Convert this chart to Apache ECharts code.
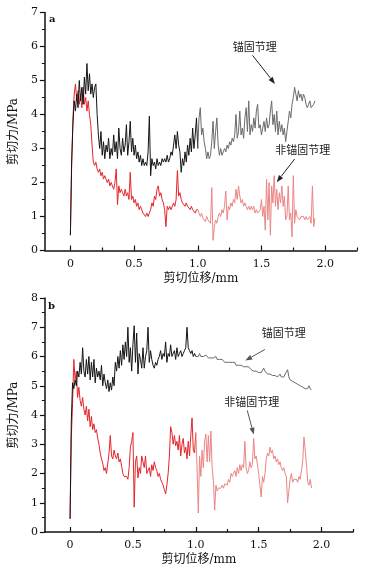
<!DOCTYPE html>
<html>
<head>
<meta charset="utf-8">
<script src="https://cdn.jsdelivr.net/npm/echarts@6/dist/echarts.min.js"></script>
<style>
html,body{margin:0;padding:0;background:#fff;}
#chart{width:379px;height:572px;}
</style>
</head>
<body>
<div id="chart"></div>
<script>
// Shear displacement (mm) sample positions, shared by both panels
const displacementMm = [
0.00,0.01,0.02,0.03,0.04,0.05,0.06,0.07,0.08,0.09,
0.10,0.11,0.12,0.13,0.14,0.15,0.16,0.17,0.18,0.19,
0.20,0.21,0.22,0.23,0.24,0.25,0.26,0.27,0.28,0.29,
0.30,0.31,0.32,0.33,0.34,0.35,0.36,0.37,0.38,0.39,
0.40,0.41,0.42,0.43,0.44,0.45,0.46,0.47,0.48,0.49,
0.50,0.51,0.52,0.53,0.54,0.55,0.56,0.57,0.58,0.59,
0.60,0.61,0.62,0.63,0.64,0.65,0.66,0.67,0.68,0.69,
0.70,0.71,0.72,0.73,0.74,0.75,0.76,0.77,0.78,0.79,
0.80,0.81,0.82,0.83,0.84,0.85,0.86,0.87,0.88,0.89,
0.90,0.91,0.92,0.93,0.94,0.95,0.96,0.97,0.98,0.99,
1.00,1.01,1.02,1.03,1.04,1.05,1.06,1.07,1.08,1.09,
1.10,1.11,1.12,1.13,1.14,1.15,1.16,1.17,1.18,1.19,
1.20,1.21,1.22,1.23,1.24,1.25,1.26,1.27,1.28,1.29,
1.30,1.31,1.32,1.33,1.34,1.35,1.36,1.37,1.38,1.39,
1.40,1.41,1.42,1.43,1.44,1.45,1.46,1.47,1.48,1.49,
1.50,1.51,1.52,1.53,1.54,1.55,1.56,1.57,1.58,1.59,
1.60,1.61,1.62,1.63,1.64,1.65,1.66,1.67,1.68,1.69,
1.70,1.71,1.72,1.73,1.74,1.75,1.76,1.77,1.78,1.79,
1.80,1.81,1.82,1.83,1.84,1.85,1.86,1.87,1.88,1.89,
1.90,1.91,1.92
];

// Panel a: anchored joint (锚固节理) shear stress, MPa
const anchoredA = [
0.45,2.6,3.7,4.4,4.1,4.6,4.2,5.0,4.4,4.8,
4.3,5.1,4.6,5.5,4.7,5.2,4.6,4.9,4.5,4.8,
4.9,4.0,3.4,3.0,3.5,2.8,3.2,2.7,3.1,2.9,
3.3,2.7,3.0,2.8,3.4,2.9,3.2,2.7,3.6,3.0,
2.8,3.3,2.9,3.1,3.7,2.8,3.2,3.8,2.9,3.3,
2.8,3.1,2.7,2.9,2.6,2.8,2.5,2.7,2.5,2.6,
2.5,2.9,3.95,2.2,2.7,2.5,2.6,2.4,2.7,2.5,
2.6,2.5,2.7,2.6,2.7,2.6,2.8,2.6,2.7,2.9,
2.8,3.1,3.4,3.0,3.5,3.1,2.9,2.3,2.7,2.5,
2.9,2.6,3.1,2.8,3.3,2.9,3.6,3.0,3.4,3.9,
3.0,3.9,4.2,3.4,3.6,3.2,3.0,2.7,2.9,2.7,
2.8,3.2,3.8,3.0,3.5,3.9,3.1,2.8,3.0,2.8,
2.9,3.0,2.9,3.1,3.0,3.2,3.1,3.3,3.2,3.4,
4.0,3.3,3.5,4.1,3.4,3.6,3.3,3.9,4.2,3.5,
4.4,3.4,3.7,3.5,3.9,3.6,4.1,4.3,3.6,3.7,
3.4,3.6,3.8,3.5,3.9,3.6,3.7,4.1,4.4,3.7,
4.0,3.5,4.1,3.4,3.8,3.5,3.7,3.4,3.6,3.2,
3.5,3.8,4.1,3.9,4.3,4.5,4.8,4.6,4.4,4.7,
4.5,4.6,4.4,4.6,4.5,4.3,4.2,4.3,4.4,4.2,
4.2,4.3,4.4
];

// Panel a: non-anchored joint (非锚固节理) shear stress, MPa
const unanchoredA = [
0.45,2.5,3.9,4.6,4.9,4.4,4.7,4.3,4.6,4.2,
4.8,4.3,4.5,4.1,4.4,4.0,3.7,3.1,2.6,2.5,
2.6,2.4,2.3,2.4,2.2,2.3,2.1,2.2,2.1,2.0,
2.1,1.9,2.0,1.9,1.8,2.0,2.4,1.35,1.9,1.7,
1.8,1.7,1.6,1.8,1.6,1.7,1.5,2.3,1.5,1.6,
1.4,1.5,1.3,1.4,1.2,1.3,1.2,1.1,1.1,1.0,
1.1,1.0,1.1,1.2,1.4,1.3,1.6,1.5,1.8,1.9,
1.6,1.7,1.5,1.4,1.2,0.7,1.3,1.2,1.3,1.2,
1.3,1.4,1.3,1.5,2.35,1.6,1.7,1.5,1.4,1.4,
1.3,1.4,1.3,1.3,1.2,1.3,1.2,1.2,1.1,1.2,
1.2,1.1,1.0,1.1,0.95,0.9,0.85,1.0,0.9,0.95,
0.8,1.85,0.3,0.7,0.9,0.8,1.0,1.1,1.0,1.2,
1.1,1.3,1.75,0.9,1.3,1.2,1.4,1.3,1.5,1.4,
1.8,1.5,1.9,1.6,1.4,1.5,1.3,1.4,1.3,1.2,
1.3,1.2,1.3,1.2,1.3,1.1,1.2,1.1,1.05,1.2,
1.5,1.0,1.3,0.6,2.1,0.9,2.0,0.45,1.9,1.4,
2.2,1.3,1.8,1.2,1.7,1.4,1.9,1.3,1.6,0.9,
1.0,1.9,0.9,1.1,0.4,2.2,0.8,1.2,1.0,1.0,
0.9,1.0,0.95,1.0,0.9,1.0,0.9,0.95,1.0,0.8,
1.9,0.7,0.95
];

// Panel b: anchored joint shear stress, MPa
const anchoredB = [
0.45,3.8,5.1,4.9,5.2,5.0,5.5,5.3,5.8,5.4,
6.3,5.5,5.3,5.9,5.4,6.0,5.2,5.8,5.3,5.9,
5.1,5.6,5.3,5.5,5.2,5.7,5.0,5.4,5.1,4.9,
5.2,4.8,5.1,4.85,5.3,5.0,5.8,5.5,6.0,5.6,
6.2,5.7,6.4,5.9,6.5,6.0,7.0,5.8,6.3,5.5,
6.4,7.05,5.8,6.8,5.4,6.1,5.9,5.6,6.3,5.6,
6.0,6.2,7.0,5.8,6.2,5.9,5.7,5.6,5.8,5.7,
5.9,6.0,6.2,5.9,6.1,6.0,6.5,5.8,6.1,6.0,
6.4,6.0,6.1,6.2,5.9,6.3,6.0,6.1,6.2,6.0,
6.1,6.2,6.3,7.0,6.3,6.2,6.1,6.2,6.0,6.1,
6.0,6.05,6.0,6.1,6.0,6.05,6.0,5.95,6.05,6.0,
5.95,6.0,5.95,5.9,5.95,5.9,6.0,5.9,5.85,5.9,
5.85,5.9,5.85,5.8,5.85,5.8,5.85,5.8,5.75,5.8,
5.75,5.8,5.7,5.75,5.7,5.65,5.7,5.75,5.65,5.7,
5.65,5.6,5.65,5.6,5.55,5.6,5.5,5.55,5.5,5.5,
5.45,5.5,5.45,5.4,5.6,5.5,5.55,5.4,5.45,5.4,
5.45,5.35,5.4,5.35,5.4,5.3,5.35,5.4,5.3,5.35,
5.3,5.4,5.35,5.55,5.3,5.2,5.25,5.15,5.2,5.1,
5.15,5.05,5.1,5.0,5.05,4.95,5.0,4.9,4.95,4.9,
5.0,4.9,4.85
];

// Panel b: non-anchored joint shear stress, MPa
const unanchoredB = [
0.45,3.2,4.4,5.9,5.2,5.5,4.6,4.95,4.5,4.3,
4.6,4.2,4.0,4.3,3.8,4.2,3.6,3.95,3.5,3.7,
3.4,3.5,3.2,3.0,2.7,2.5,2.35,2.1,2.2,2.0,
2.0,2.7,3.3,2.6,2.5,2.8,2.6,2.5,2.7,2.4,
2.5,2.25,2.0,1.9,1.85,1.9,1.8,2.2,2.9,3.1,
3.4,0.85,2.4,2.6,1.85,2.2,2.0,2.6,2.4,2.2,
2.6,2.0,2.1,2.2,1.9,2.3,2.1,2.4,2.2,2.1,
1.9,2.0,1.8,1.7,1.6,1.45,1.3,1.6,2.0,2.6,
3.6,3.4,3.0,3.3,2.95,3.1,2.8,3.3,2.6,3.0,
3.2,2.7,2.9,2.5,3.1,2.6,3.3,3.9,2.8,2.7,
3.4,2.2,0.65,2.6,1.9,2.8,2.2,3.1,3.35,2.4,
3.3,2.4,3.45,2.2,1.75,0.75,1.6,1.4,1.5,1.45,
1.5,1.6,1.5,1.65,1.7,1.6,1.8,1.7,2.0,1.9,
1.95,2.1,1.9,2.2,2.0,2.3,2.1,2.3,2.2,3.1,
2.2,2.0,2.1,2.4,2.2,2.3,3.2,2.5,2.6,2.3,
2.0,1.6,1.2,1.9,1.7,2.0,2.5,2.7,2.6,2.9,
2.7,2.8,2.5,2.6,2.4,2.5,2.3,2.4,2.2,2.1,
2.2,2.0,1.9,1.0,1.4,1.8,2.0,1.7,1.8,1.75,
1.8,1.7,1.9,1.8,2.1,2.4,3.25,2.8,2.3,1.7,
1.6,1.8,1.5
];

// Axis tick values
const xMajorTicks = [0, 0.5, 1.0, 1.5, 2.0];
const xMinorTicks = [0.25, 0.75, 1.25, 1.75, 2.25];
const xLabels = ['0', '0.5', '1.0', '1.5', '2.0'];
const yMaxA = 7;
const yMaxB = 8;

// Index at which the trace colour changes (displacement 1.0 mm)
const colourSplitIndex = 100;

// Annotations in data units: label centre, arrow start, arrow end
const annA = {
  anchored: { text: '锚固节理', at: [1.448, 5.99], from: [1.43, 5.74], to: [1.606, 4.90] },
  unanchored: { text: '非锚固节理', at: [1.825, 2.96], from: [1.76, 2.69], to: [1.62, 2.01] }
};
const annB = {
  anchored: { text: '锚固节理', at: [1.70, 6.82], from: [1.549, 6.24], to: [1.393, 5.86] },
  unanchored: { text: '非锚固节理', at: [1.444, 4.465], from: [1.409, 4.157], to: [1.461, 3.33] }
};

function segment(ys, from, to) {
  const out = [];
  for (let i = from; i <= to && i < ys.length; i++) out.push([displacementMm[i], ys[i]]);
  return out;
}

const serif = "'DejaVu Serif', 'Liberation Serif', serif";
const mixed = "'DejaVu Serif', 'Noto Sans CJK SC', serif";
const axisColor = '#111';

function mainX(gridIndex) {
  return {
    type: 'value', gridIndex, min: -0.2, max: 2.25, position: 'bottom',
    axisLine: { show: true, onZero: false, lineStyle: { color: axisColor, width: 1.5 } },
    axisTick: { show: true, inside: true, length: 5, customValues: xMajorTicks, lineStyle: { color: axisColor, width: 1.2 } },
    axisLabel: { show: true, customValues: xMajorTicks, margin: 8, fontFamily: serif, fontSize: 11, color: '#111',
      formatter: v => xLabels[xMajorTicks.findIndex(t => Math.abs(t - v) < 1e-6)] },
    splitLine: { show: false },
    name: '剪切位移/mm', nameLocation: 'middle', nameGap: 22,
    nameTextStyle: { fontFamily: mixed, fontSize: 12, color: '#111' }
  };
}
function minorX(gridIndex) {
  return {
    type: 'value', gridIndex, min: -0.2, max: 2.25, position: 'bottom',
    axisLine: { show: false },
    axisTick: { show: true, inside: true, length: 3, customValues: xMinorTicks, lineStyle: { color: axisColor, width: 1.2 } },
    axisLabel: { show: false },
    splitLine: { show: false }
  };
}
function yAx(gridIndex, max) {
  return {
    type: 'value', gridIndex, min: 0, max, interval: 1,
    axisLine: { show: true, onZero: false, lineStyle: { color: axisColor, width: 1.5 } },
    axisTick: { show: true, inside: false, length: 5, lineStyle: { color: axisColor, width: 1.2 } },
    minorTick: { show: true, splitNumber: 2, length: 3, lineStyle: { color: axisColor, width: 1 } },
    axisLabel: { margin: 7, fontFamily: serif, fontSize: 11, color: '#111' },
    splitLine: { show: false },
    name: '剪切力/MPa', nameLocation: 'middle', nameGap: 20, nameRotate: 90,
    nameTextStyle: { fontFamily: mixed, fontSize: 12, color: '#111' }
  };
}
function line(name, data, xAxisIndex, yAxisIndex, color, z) {
  return {
    type: 'line', name, data, xAxisIndex, yAxisIndex, showSymbol: false, symbol: 'none',
    lineStyle: { color, width: 1 }, itemStyle: { color }, z, animation: false, silent: true
  };
}

const n = displacementMm.length - 1;
const chart = echarts.init(document.getElementById('chart'), null, { renderer: 'canvas' });
chart.setOption({
  backgroundColor: '#ffffff',
  animation: false,
  grid: [
    { left: 39, top: 12.5, width: 318, height: 238 },
    { left: 38, top: 298, width: 315, height: 234 }
  ],
  xAxis: [mainX(0), minorX(0), mainX(1), minorX(1)],
  yAxis: [yAx(0, yMaxA), yAx(1, yMaxB)],
  series: [
    line('非锚固节理 a', segment(unanchoredA, 0, colourSplitIndex), 0, 0, '#e3262a', 2),
    line('非锚固节理 a (2)', segment(unanchoredA, colourSplitIndex, n), 0, 0, '#ec8585', 2),
    line('锚固节理 a', segment(anchoredA, 0, colourSplitIndex), 0, 0, '#151515', 3),
    line('锚固节理 a (2)', segment(anchoredA, colourSplitIndex, n), 0, 0, '#6a6a6a', 3),
    line('非锚固节理 b', segment(unanchoredB, 0, colourSplitIndex), 2, 1, '#e3262a', 2),
    line('非锚固节理 b (2)', segment(unanchoredB, colourSplitIndex, n), 2, 1, '#ec8585', 2),
    line('锚固节理 b', segment(anchoredB, 0, colourSplitIndex), 2, 1, '#151515', 3),
    line('锚固节理 b (2)', segment(anchoredB, colourSplitIndex, n), 2, 1, '#6a6a6a', 3)
  ]
});

function px(gridIndex, p) { return chart.convertToPixel({ gridIndex }, p); }
function arrow(p1, p2, color) {
  const dx = p2[0] - p1[0], dy = p2[1] - p1[1];
  const L = Math.hypot(dx, dy), ux = dx / L, uy = dy / L;
  const hl = 7, hw = 2.6;
  const base = [p2[0] - ux * hl, p2[1] - uy * hl];
  const left = [base[0] - uy * hw, base[1] + ux * hw];
  const right = [base[0] + uy * hw, base[1] - ux * hw];
  return [
    { type: 'line', silent: true, shape: { x1: p1[0], y1: p1[1], x2: base[0], y2: base[1] }, style: { stroke: color, lineWidth: 1 } },
    { type: 'polygon', silent: true, shape: { points: [p2, left, right] }, style: { fill: color } }
  ];
}
function label(p, text) {
  return { type: 'text', silent: true, x: p[0], y: p[1],
    style: { text, fontSize: 11, fontFamily: "'Noto Sans CJK SC', sans-serif", fill: '#222', align: 'center', verticalAlign: 'middle' } };
}
const g = [];
[[0, annA, '#222'], [1, annB, '#555']].forEach(([gi, ann, col]) => {
  ['anchored', 'unanchored'].forEach(k => {
    const a = ann[k];
    g.push(label(px(gi, a.at), a.text));
    g.push(...arrow(px(gi, a.from), px(gi, a.to), col));
  });
});
const topA = px(0, [0, yMaxA]), topB = px(1, [0, yMaxB]);
g.push({ type: 'text', silent: true, x: 49, y: topA[1] + 7, style: { text: 'a', fontSize: 10, fontWeight: 'bold', fontFamily: serif, fill: '#111', align: 'left', verticalAlign: 'middle' } });
g.push({ type: 'text', silent: true, x: 48, y: topB[1] + 8, style: { text: 'b', fontSize: 10, fontWeight: 'bold', fontFamily: serif, fill: '#111', align: 'left', verticalAlign: 'middle' } });
chart.setOption({ graphic: g });
</script>
</body>
</html>
